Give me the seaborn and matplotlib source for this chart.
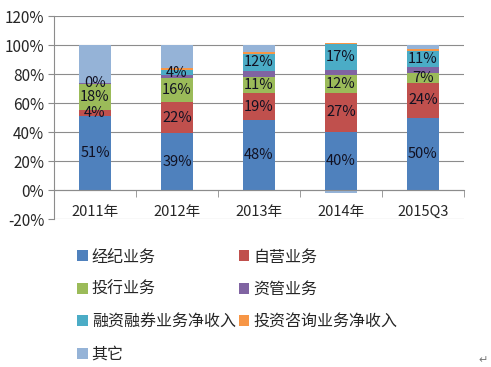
import matplotlib
matplotlib.use("Agg")
import matplotlib.pyplot as plt
from matplotlib.patches import Patch
import numpy as np
import pandas as pd
import seaborn as sns

years = ["2011年", "2012年", "2013年", "2014年", "2015Q3"]
series = ["经纪业务", "自营业务", "投行业务", "资管业务",
          "融资融券业务净收入", "投资咨询业务净收入", "其它"]
jingji = [51, 39, 48, 40, 50]
ziying = [4, 22, 19, 27, 24]
touhang = [18, 16, 11, 12, 7]
ziguan = [0.5, 2, 4, 4, 4]
rongzi = [0, 4, 12, 17.4, 11]
zixun = [0, 1, 1.5, 1, 1.5]
qita = [26.5, 16, 4.5, -2, 2.5]
colors = ["#4F81BD", "#C0504D", "#9BBB59", "#8064A2", "#4BACC6", "#F79646", "#95B3D7"]
labeled = [True, True, True, False, True, False, False]

sns.set_style("white")
plt.rcParams["font.family"] = ["Noto Sans CJK SC", "DejaVu Sans"]

fig = plt.figure(figsize=(4.91, 3.67), dpi=100)
ax = fig.add_axes([54 / 491, 1 - 219 / 367, 410 / 491, 203 / 367])

data = [jingji, ziying, touhang, ziguan, rongzi, zixun, qita]
pos_base = np.zeros(len(years))
neg_base = np.zeros(len(years))
for name, vals, col, lab in zip(series, data, colors, labeled):
    vals = np.array(vals, dtype=float)
    bottom = np.where(vals >= 0, pos_base, neg_base)
    df = pd.DataFrame({"year": years, "value": vals})
    sns.barplot(data=df, x="year", y="value", order=years, color=col,
                saturation=1, width=0.4, bottom=bottom, ax=ax,
                edgecolor="none", linewidth=0)
    if lab:
        for i, v in enumerate(vals):
            ax.text(i, bottom[i] + v / 2, f"{round(v):.0f}%", ha="center",
                    va="center", fontsize=10.5, color="#111122")
    pos_base = np.where(vals >= 0, pos_base + vals, pos_base)
    neg_base = np.where(vals < 0, neg_base + vals, neg_base)

ax.set_xlim(-0.5, 4.5)
ax.set_ylim(-20, 120)
ax.set_yticks(range(-20, 121, 20))
ax.set_yticklabels([f"{t}%" for t in range(-20, 121, 20)], fontsize=11)
ax.set_xlabel("")
ax.set_ylabel("")
ax.yaxis.grid(True, color="#8c8c8c", linewidth=0.8)
ax.set_axisbelow(True)
for s in ["top", "right"]:
    ax.spines[s].set_visible(False)
ax.spines["left"].set_color("#8c8c8c")
ax.spines["bottom"].set_color("#8c8c8c")
ax.spines["bottom"].set_position(("data", 0))
ax.tick_params(axis="y", length=4, color="#8c8c8c", pad=3, left=True)
ax.tick_params(axis="x", which="major", length=0, pad=11, labelsize=10.5)
ax.set_xticks(np.arange(-0.5, 5, 1), minor=True)
ax.tick_params(axis="x", which="minor", length=5, color="#8c8c8c", bottom=True)

# legend fills column by column, so reorder to get row-wise pairs
order = [0, 2, 4, 6, 1, 3, 5]
handles = [Patch(facecolor=colors[i], edgecolor="none") for i in order]
labels = [series[i] for i in order]
fig.legend(handles, labels, loc="upper left", bbox_to_anchor=(63 / 491, 1 - 234 / 367),
           ncol=2, frameon=False, fontsize=11.5, handlelength=0.65, handleheight=0.65,
           handletextpad=0.25, labelspacing=0.97, columnspacing=0.2)

fig.text(483 / 491, 1 - 360 / 367, "↵", fontsize=8, color="#777777",
         ha="center", va="center", family="DejaVu Sans")

fig.savefig("out.png", dpi=100)
